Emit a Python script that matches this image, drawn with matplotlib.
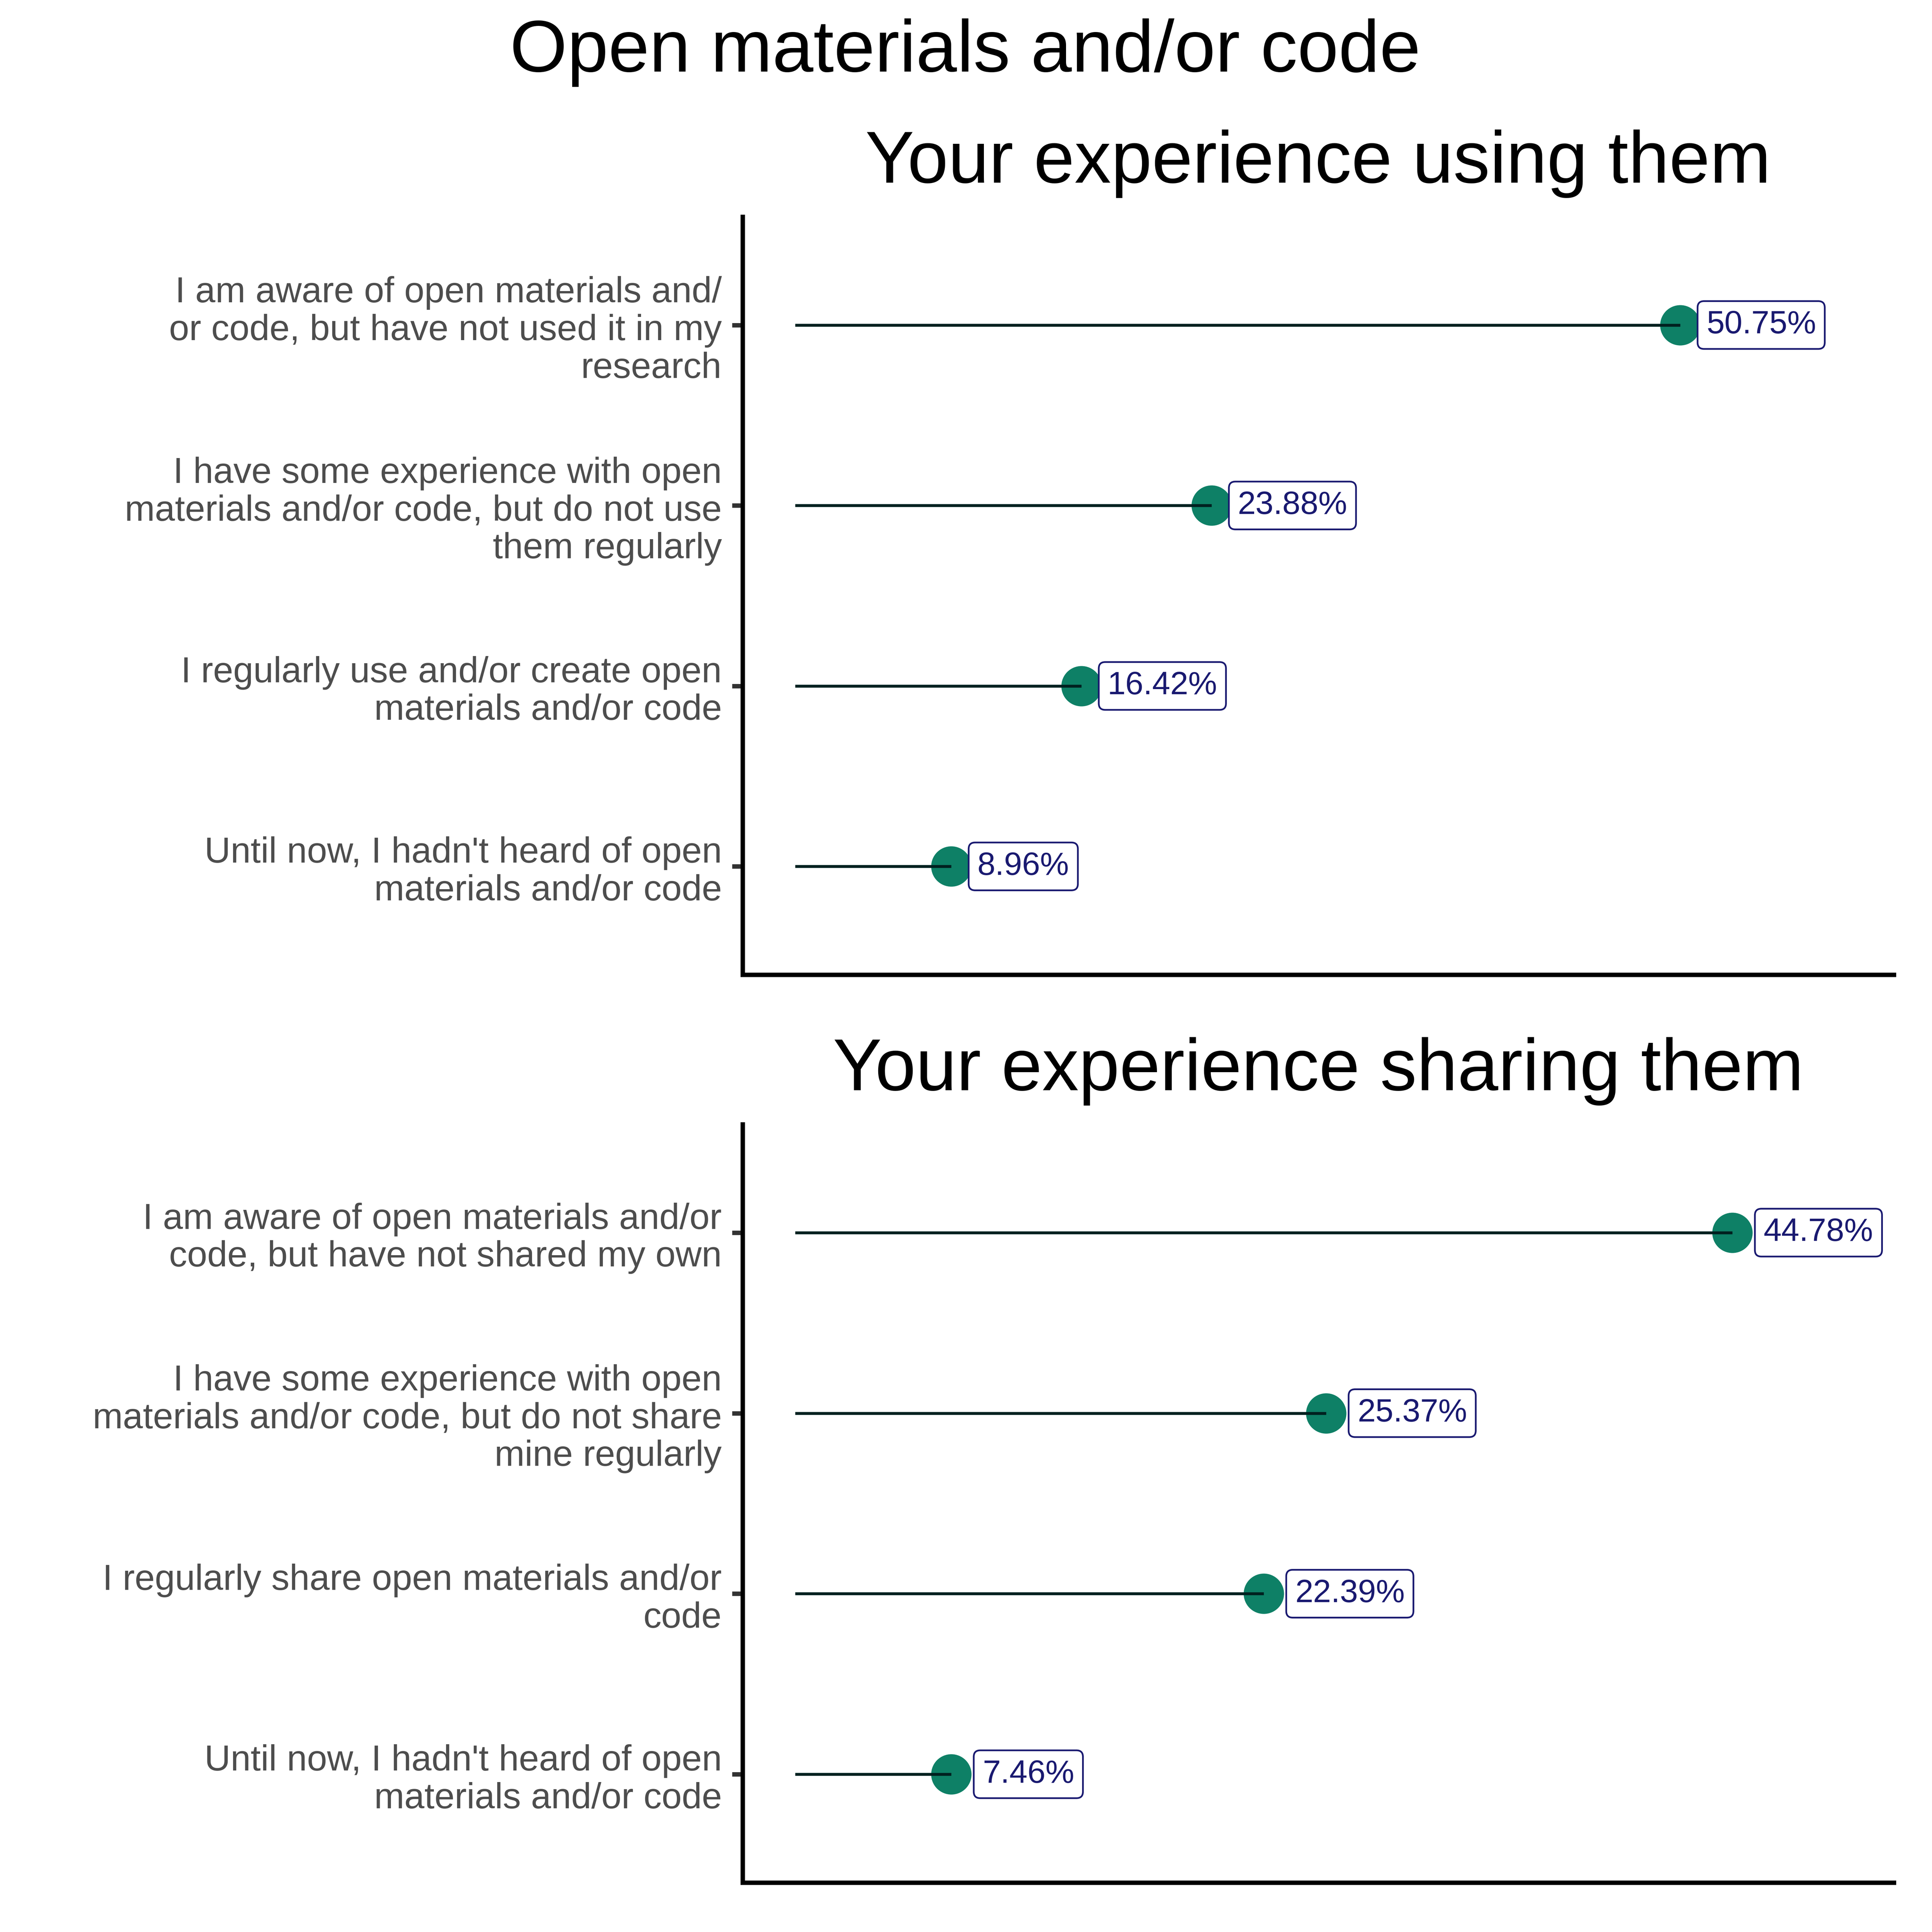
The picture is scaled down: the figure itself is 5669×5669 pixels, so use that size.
import matplotlib
matplotlib.use("Agg")
import matplotlib.pyplot as plt

plt.rcParams['font.family'] = ['Liberation Sans', 'DejaVu Sans']

main_title = "Open materials and/or code"

using_title = "Your experience using them"
using_labels = [
    "I am aware of open materials and/\nor code, but have not used it in my\nresearch",
    "I have some experience with open\nmaterials and/or code, but do not use\nthem regularly",
    "I regularly use and/or create open\nmaterials and/or code",
    "Until now, I hadn't heard of open\nmaterials and/or code",
]
using_values = [50.75, 23.88, 16.42, 8.96]

sharing_title = "Your experience sharing them"
sharing_labels = [
    "I am aware of open materials and/or\ncode, but have not shared my own",
    "I have some experience with open\nmaterials and/or code, but do not share\nmine regularly",
    "I regularly share open materials and/or\ncode",
    "Until now, I hadn't heard of open\nmaterials and/or code",
]
sharing_values = [44.78, 25.37, 22.39, 7.46]

DOT = '#0e8066'
LINE = '#00201f'
LABEL = '#191970'

fig = plt.figure(figsize=(5669 / 360, 5669 / 360), dpi=360)
ax_top = fig.add_axes([0.38437, 0.49550, 0.59587, 0.39231])
ax_bot = fig.add_axes([0.38437, 0.02558, 0.59587, 0.39248])


def lollipop(ax, labels, values, title, xmax):
    ypos = list(range(len(values)))
    for y, v in zip(ypos, values):
        ax.plot([0, v], [y, y], color=LINE, lw=1.7, zorder=3, solid_capstyle='butt')
    ax.scatter(values, ypos, s=560, color=DOT, zorder=2, linewidths=0)
    for y, v in zip(ypos, values):
        ax.text(v + 1.5, y, f"{v:.2f}%", ha='left', va='center', fontsize=19,
                color=LABEL, zorder=4, clip_on=False,
                bbox=dict(boxstyle='round,pad=0.27,rounding_size=0.2',
                          fc='white', ec=LABEL, lw=1.0))
    ax.set_xlim(-0.05 * xmax, 1.05 * xmax)
    ax.set_ylim(len(values) - 0.4, -0.6)
    ax.set_yticks(ypos)
    ax.set_yticklabels(labels, fontsize=21.2, color='#4d4d4d', linespacing=1.15)
    ax.set_xticks([])
    for s in ['top', 'right']:
        ax.spines[s].set_visible(False)
    for s in ['left', 'bottom']:
        ax.spines[s].set_linewidth(2.6)
        ax.spines[s].set_color('black')
    ax.tick_params(axis='y', length=6.2, width=2.6, color='#333333', pad=6)
    ax.set_title(title, fontsize=43, pad=20)


lollipop(ax_top, using_labels, using_values, using_title, 60)
lollipop(ax_bot, sharing_labels, sharing_values, sharing_title, 50)

fig.text(0.4996, 1 - 210 / 5669, main_title, ha='center', va='baseline', fontsize=43.3)

fig.savefig('out.png', dpi=360, facecolor='white')
